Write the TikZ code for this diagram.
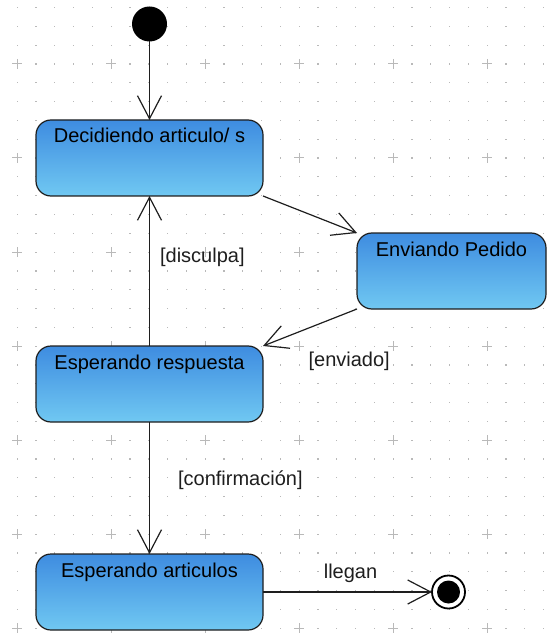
\documentclass[tikz,border=0pt]{standalone}
\usepackage{fontspec}
\setmainfont{Liberation Sans}
\usetikzlibrary{shapes,arrows.meta,positioning,calc}
\definecolor{statetop}{RGB}{62,140,224}
\definecolor{statebot}{RGB}{112,200,242}
\definecolor{gridgray}{RGB}{185,185,185}
\definecolor{linegray}{RGB}{30,30,30}

\begin{document}
\begin{tikzpicture}[
    x=1pt, y=-1pt,
    state/.style={rectangle, draw=linegray, line width=1.2pt, top color=statetop, bottom color=statebot, rounded corners=15pt, minimum width=227pt, inner xsep=0pt, inner ysep=4pt, text height=19pt, text depth=49pt, outer sep=0pt, font=\fontsize{20}{24}\selectfont},
    guard/.style={inner sep=0pt, text=linegray, font=\fontsize{20}{24}\selectfont},
    arrow/.style={-{Straight Barb[length=23pt,width=24pt]}, line width=1.2pt, draw=linegray},
    griddot/.style={fill=gridgray},
    gridplus/.style={draw=gridgray, line width=1pt}
]
    \useasboundingbox (0,0) rectangle (558,636);

    % Background grid
    \foreach \i in {0,...,28}{
        \foreach \j in {0,...,33}{
            \fill[griddot] ({16.5+18.8*\i},{7.1+18.8*\j}) rectangle ++(1.2,1.2);
        }
    }
    \foreach \i in {0,5,...,25}{
        \foreach \j in {3,8,...,33}{
            \draw[gridplus] ({17+18.8*\i-5},{7.6+18.8*\j}) -- ++(10,0);
            \draw[gridplus] ({17+18.8*\i},{7.6+18.8*\j-5}) -- ++(0,10);
        }
    }

    % States
    \node[circle, fill=black, minimum size=35pt, inner sep=0pt, outer sep=0pt] (init) at (149.5,24) {};
    \node[state, below=78.5pt of init] (decidiendo) {Decidiendo articulo/ s};
    \node[state, minimum width=189pt, below right=37pt and 94pt of decidiendo.south east, anchor=north west] (enviando) {Enviando Pedido};
    \node[state, below=150pt of decidiendo] (respuesta) {Esperando respuesta};
    \node[state, below=132pt of respuesta] (articulos) {Esperando articulos};
    \node[circle, draw=black, line width=1.8pt, minimum size=33pt, inner sep=0pt, outer sep=0pt, right=169pt of articulos,
        path picture={\fill[black] (path picture bounding box.center) circle (11.5pt);}] (fin) {};

    % Transitions
    \draw[arrow] (init) -- (decidiendo);
    \draw[arrow] (decidiendo.south east) -- (enviando.north west);
    \draw[arrow] (enviando.south west) -- (respuesta.north east)
        node[guard, pos=0.5, anchor=west, xshift=-2pt, yshift=-34pt] {[enviado]};
    \draw[arrow] (respuesta) -- (decidiendo)
        node[guard, pos=0.59, right=10pt] {[disculpa]};
    \draw[arrow] (respuesta) -- (articulos)
        node[guard, pos=0.44, right=28pt] {[confirmación]};
    \draw[arrow] (articulos) -- (fin)
        node[guard, midway, above=9pt, xshift=3pt] {llegan};

\end{tikzpicture}
\end{document}
